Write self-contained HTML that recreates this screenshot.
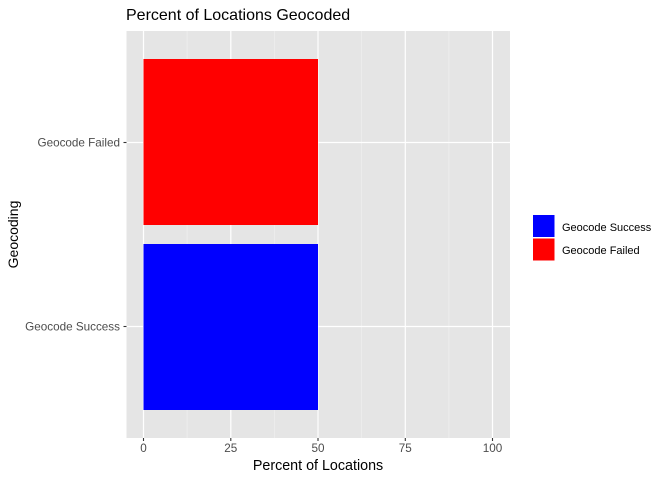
<!DOCTYPE html><html><head><style>body{margin:0;background:#fff}</style></head><body>
<svg width="672" height="480" xmlns="http://www.w3.org/2000/svg" font-family="Liberation Sans, sans-serif">
<rect width="672" height="480" fill="#fff"/>
<rect x="126.5" y="31" width="383.5" height="407" fill="#e5e5e5"/>
<g stroke="#f2f2f2" stroke-width="0.6">
<line x1="187.1" y1="31" x2="187.1" y2="438"/><line x1="274.4" y1="31" x2="274.4" y2="438"/><line x1="361.6" y1="31" x2="361.6" y2="438"/><line x1="448.9" y1="31" x2="448.9" y2="438"/></g>
<g stroke="#fff" stroke-width="1.2">
<line x1="143.5" y1="31" x2="143.5" y2="438"/><line x1="230.8" y1="31" x2="230.8" y2="438"/><line x1="318" y1="31" x2="318" y2="438"/><line x1="405.3" y1="31" x2="405.3" y2="438"/><line x1="492.5" y1="31" x2="492.5" y2="438"/>
<line x1="126.5" y1="142.5" x2="510" y2="142.5"/><line x1="126.5" y1="326.5" x2="510" y2="326.5"/></g>
<rect x="143.5" y="59" width="174.5" height="166" fill="#ff0000"/>
<rect x="143.5" y="244" width="174.5" height="166" fill="#0000ff"/>
<g stroke="#333" stroke-width="1.1">
<line x1="123.5" y1="142.5" x2="126.5" y2="142.5"/><line x1="123.5" y1="326.5" x2="126.5" y2="326.5"/>
<line x1="143.5" y1="438" x2="143.5" y2="441"/><line x1="230.8" y1="438" x2="230.8" y2="441"/><line x1="318" y1="438" x2="318" y2="441"/><line x1="405.3" y1="438" x2="405.3" y2="441"/><line x1="492.5" y1="438" x2="492.5" y2="441"/></g>
<g font-size="11.7" fill="#4d4d4d">
<text x="120" y="146.5" text-anchor="end">Geocode Failed</text>
<text x="120" y="330.5" text-anchor="end">Geocode Success</text>
<g text-anchor="middle"><text x="143.5" y="452">0</text><text x="230.8" y="452">25</text><text x="318" y="452">50</text><text x="405.3" y="452">75</text><text x="492.5" y="452">100</text></g></g>
<text x="318" y="470" font-size="14.3" text-anchor="middle" fill="#000">Percent of Locations</text>
<text transform="translate(18,234.5) rotate(-90)" font-size="14" text-anchor="middle" fill="#000">Geocoding</text>
<text x="126" y="20" font-size="16" fill="#000">Percent of Locations Geocoded</text>
<rect x="533" y="215" width="21.5" height="22" fill="#0000ff"/>
<rect x="533" y="238.5" width="21.5" height="22" fill="#ff0000"/>
<text x="562" y="231" font-size="11" fill="#000">Geocode Success</text>
<text x="562" y="254" font-size="11" fill="#000">Geocode Failed</text>
</svg></body></html>
